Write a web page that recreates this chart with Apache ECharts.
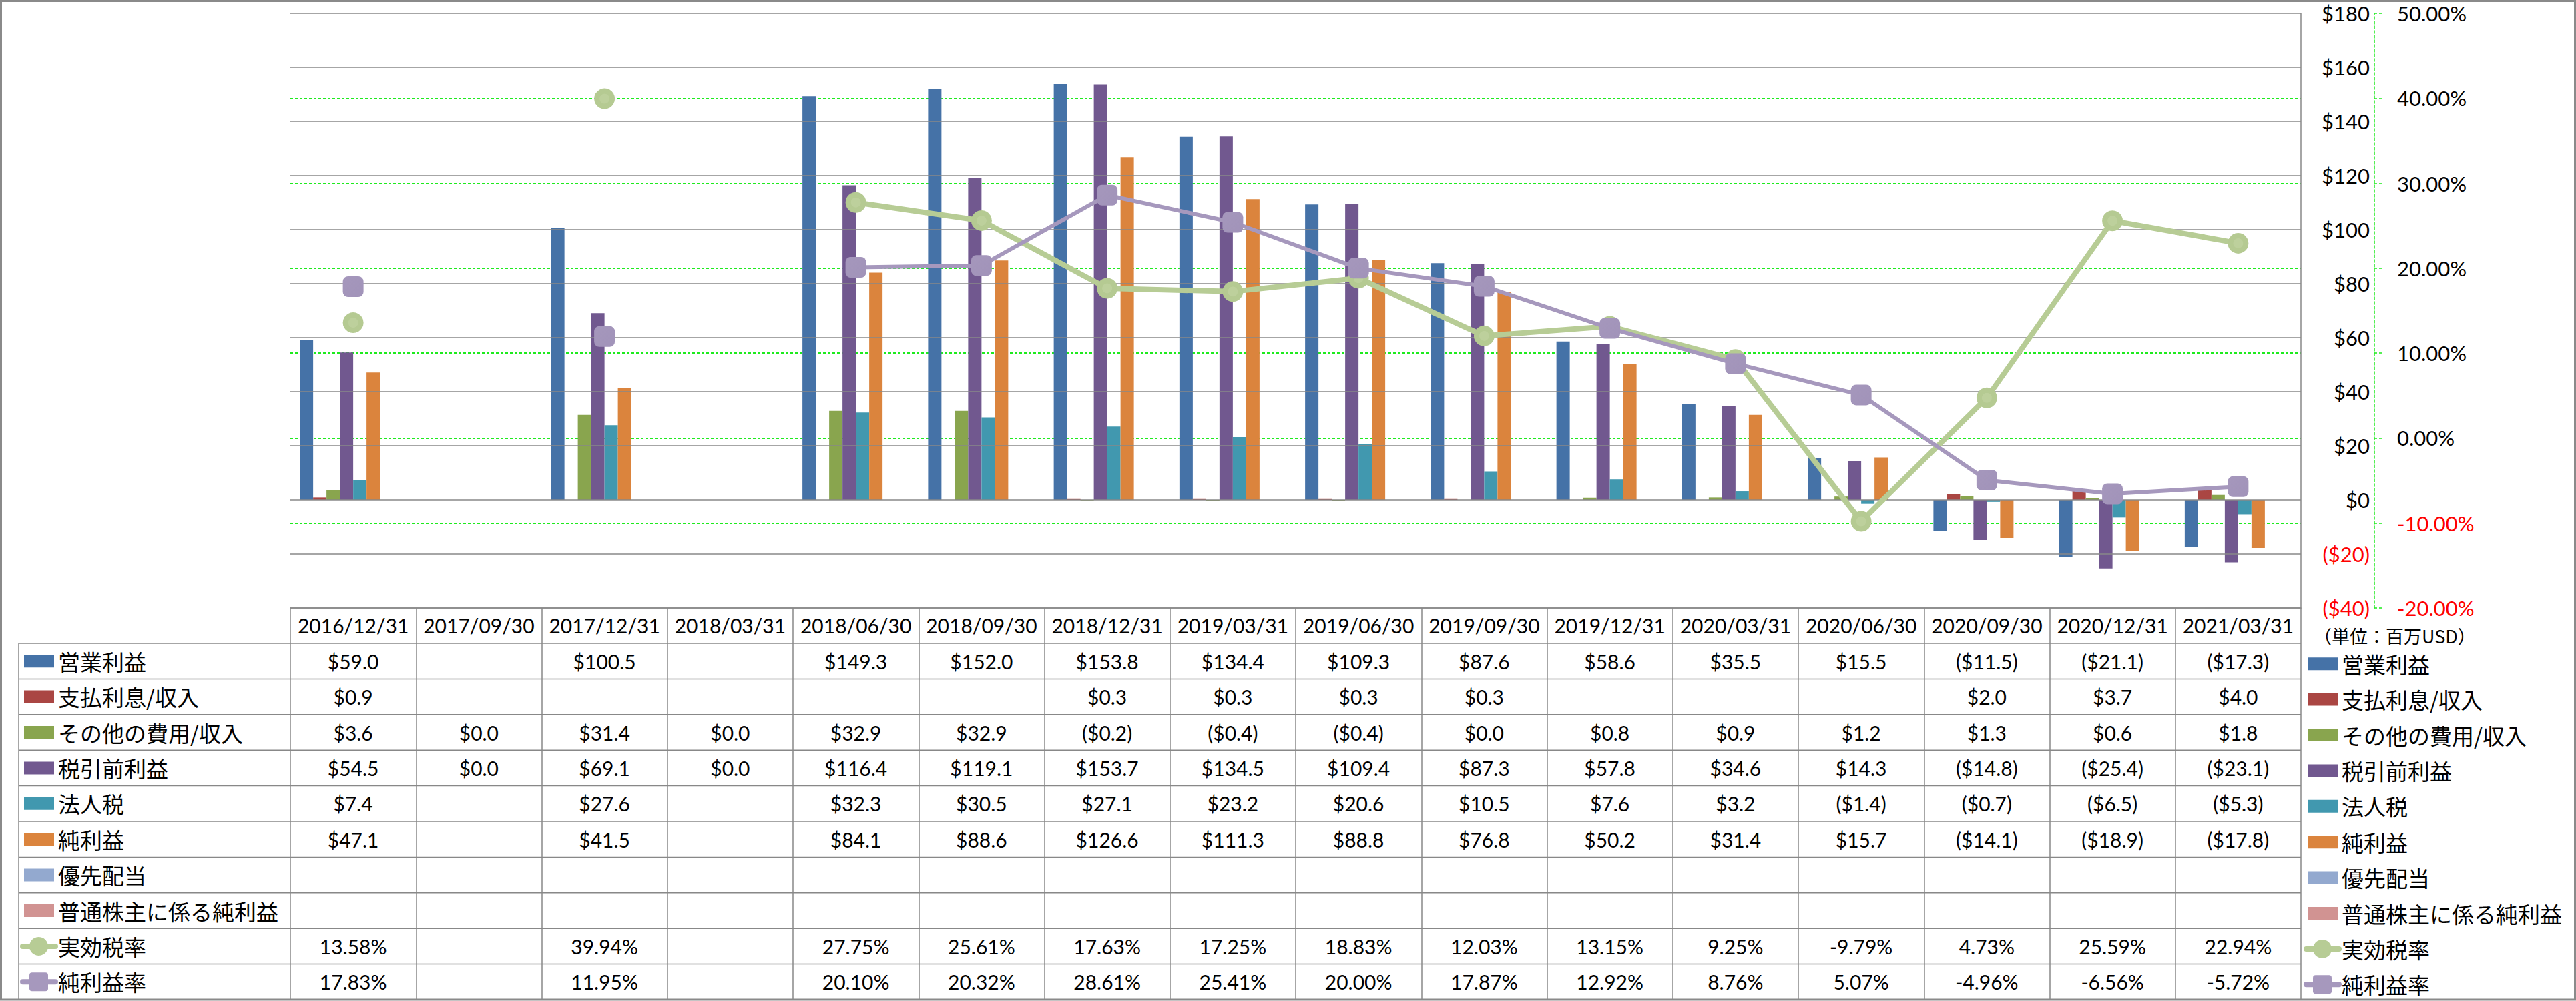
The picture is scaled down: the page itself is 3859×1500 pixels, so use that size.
<!DOCTYPE html>
<html>
<head>
<meta charset="utf-8">
<script src="https://cdn.jsdelivr.net/npm/echarts@6/dist/echarts.min.js"></script>
<style>
html,body{margin:0;padding:0;background:#fff;}
#main{width:3859px;height:1500px;}
</style>
</head>
<body>
<div id="main"></div>
<script>
// ---------- data ----------
const categories = ['2016/12/31','2017/09/30','2017/12/31','2018/03/31','2018/06/30','2018/09/30','2018/12/31','2019/03/31','2019/06/30','2019/09/30','2019/12/31','2020/03/31','2020/06/30','2020/09/30','2020/12/31','2021/03/31'];
const operatingIncome = [59.0,null,100.5,null,149.3,152.0,153.8,134.4,109.3,87.6,58.6,35.5,15.5,-11.5,-21.1,-17.3];
const interestExpense = [0.9,null,null,null,null,null,0.3,0.3,0.3,0.3,null,null,null,2.0,3.7,4.0];
const otherExpense = [3.6,0.0,31.4,0.0,32.9,32.9,-0.2,-0.4,-0.4,0.0,0.8,0.9,1.2,1.3,0.6,1.8];
const pretaxIncome = [54.5,0.0,69.1,0.0,116.4,119.1,153.7,134.5,109.4,87.3,57.8,34.6,14.3,-14.8,-25.4,-23.1];
const incomeTax = [7.4,null,27.6,null,32.3,30.5,27.1,23.2,20.6,10.5,7.6,3.2,-1.4,-0.7,-6.5,-5.3];
const netIncome = [47.1,null,41.5,null,84.1,88.6,126.6,111.3,88.8,76.8,50.2,31.4,15.7,-14.1,-18.9,-17.8];
const preferredDividend = [null,null,null,null,null,null,null,null,null,null,null,null,null,null,null,null];
const netIncomeCommon = [null,null,null,null,null,null,null,null,null,null,null,null,null,null,null,null];
const effectiveTaxRate = [13.58,null,39.94,null,27.75,25.61,17.63,17.25,18.83,12.03,13.15,9.25,-9.79,4.73,25.59,22.94];
const netMargin = [17.83,null,11.95,null,20.10,20.32,28.61,25.41,20.00,17.87,12.92,8.76,5.07,-4.96,-6.56,-5.72];
const usdTicks = {min:-40, max:180, interval:20};
const pctTicks = {min:-20, max:50, interval:10};
const unitLabel = '（単位：百万USD）';

const barNames = ['営業利益','支払利息/収入','その他の費用/収入','税引前利益','法人税','純利益','優先配当','普通株主に係る純利益'];
const barData = [operatingIncome, interestExpense, otherExpense, pretaxIncome, incomeTax, netIncome, preferredDividend, netIncomeCommon];
const barColors = ['#4572A7','#AA4643','#89A54E','#71588F','#4198AF','#DB843D','#93A9CF','#D19392'];
const lineNames = ['実効税率','純利益率'];
const lineData = [effectiveTaxRate, netMargin];
const lineColors = ['#B7CC95','#A698BD'];

const NUM_FONT = 'Lato, "Noto Sans CJK JP", sans-serif';
const JP_FONT = '"Noto Sans CJK JP", sans-serif';
const GRID_GRAY = '#888888';
const GREEN_DASH = '#1EEB1E';

function fmtUsd(v){ if(v===null||v===undefined) return ''; const s=Math.abs(v).toFixed(1); return v<0?'($'+s+')':'$'+s; }
function fmtPct(v){ if(v===null||v===undefined) return ''; return v.toFixed(2)+'%'; }

const chart = echarts.init(document.getElementById('main'), null, {renderer:'svg'});

const series = [];
barNames.forEach((n,i)=>{
  series.push({name:n, type:'bar', data:barData[i], barWidth:20, barGap:'0%', yAxisIndex:0,
    itemStyle:{color:barColors[i]}, silent:true, animation:false});
});
const radial = (c1,c2)=>({type:'radial',x:0.5,y:0.5,r:0.5,colorStops:[{offset:0,color:c1},{offset:0.45,color:c1},{offset:0.5,color:c2},{offset:1,color:c2}]});
series.push({name:lineNames[0], type:'line', yAxisIndex:1, data:lineData[0], symbol:'circle', symbolSize:31,
  lineStyle:{color:lineColors[0], width:8}, itemStyle:{color:radial('#BDD09C','#B5CA92')}, z:5, silent:true, animation:false});
series.push({name:lineNames[1], type:'line', yAxisIndex:1, data:lineData[1], symbol:'roundRect', symbolSize:31,
  lineStyle:{color:lineColors[1], width:6}, itemStyle:{color:{type:'linear',x:0,y:0,x2:1,y2:1,colorStops:[{offset:0,color:'#A597BC'},{offset:1,color:'#A193B9'}]}}, z:6, silent:true, animation:false});

const option = {
  backgroundColor:'#ffffff',
  animation:false,
  grid:{left:435, right:412, top:20, bottom:589, containLabel:false},
  xAxis:{type:'category', data:categories, boundaryGap:true,
    axisLine:{show:true, onZero:false, lineStyle:{color:GRID_GRAY, width:1.5}},
    axisTick:{show:true, inside:false, length:587, interval:0, alignWithLabel:false, lineStyle:{color:GRID_GRAY, width:1.5}},
    axisLabel:{show:true, interval:0, margin:26, verticalAlign:'middle', fontSize:30, fontFamily:NUM_FONT, color:'#000'},
    splitLine:{show:false}},
  yAxis:[
    {type:'value', position:'right', min:usdTicks.min, max:usdTicks.max, interval:usdTicks.interval,
      axisLine:{show:true, lineStyle:{color:GRID_GRAY, width:1.5}}, axisTick:{show:false},
      axisLabel:{margin:103, align:'right', fontSize:31, fontFamily:NUM_FONT,
        formatter:v=> v<0 ? '($'+Math.abs(v)+')' : '$'+v,
        color:v=> Number(v)<0 ? '#FF0000' : '#000000'},
      splitLine:{show:true, lineStyle:{color:GRID_GRAY, width:1.5}}, z:3},
    {type:'value', position:'right', offset:110, min:pctTicks.min, max:pctTicks.max, interval:pctTicks.interval,
      axisLine:{show:true, lineStyle:{color:GREEN_DASH, width:1.5, type:[4,3]}},
      axisTick:{show:true, inside:false, length:11, lineStyle:{color:GREEN_DASH, width:1.5, type:[4,3]}},
      axisLabel:{margin:34, align:'left', fontSize:31, fontFamily:NUM_FONT,
        formatter:v=> Number(v).toFixed(2)+'%',
        color:v=> Number(v)<0 ? '#FF0000' : '#000000'},
      splitLine:{show:true, lineStyle:{color:['rgba(0,0,0,0)',GREEN_DASH,GREEN_DASH,GREEN_DASH,GREEN_DASH,GREEN_DASH,GREEN_DASH,'rgba(0,0,0,0)'], width:2, type:[4,3]}}, z:2}
  ],
  series:series
};
chart.setOption(option);

// ---------- table & legends (positions from the chart's own scales) ----------
function buildGraphic(){
  const xs = categories.map((c,i)=>chart.convertToPixel({xAxisIndex:0}, i));
  const step = xs[1]-xs[0];
  const xRight = xs[xs.length-1]+step/2;
  const yBottom = chart.convertToPixel({yAxisIndex:0}, usdTicks.min);
  const headerH = 53;
  const tableTop = yBottom + headerH;
  const tableBottom = 1498;
  const rows = barNames.concat(lineNames);
  const rowH = (tableBottom - tableTop)/rows.length;
  const legendLeft = 28;
  const g = [];
  g.push({type:'rect', silent:true, shape:{x:1.5,y:1.5,width:3856,height:1496.5}, style:{fill:'none', stroke:'#8a8a8a', lineWidth:3}, z:100});
  for(let k=0;k<=rows.length;k++){
    const y = tableTop + k*rowH;
    g.push({type:'line', silent:true, shape:{x1:legendLeft,y1:y,x2:xRight,y2:y}, style:{stroke:GRID_GRAY, lineWidth:1.5}});
  }
  g.push({type:'line', silent:true, shape:{x1:legendLeft,y1:tableTop,x2:legendLeft,y2:tableBottom}, style:{stroke:GRID_GRAY, lineWidth:1.5}});
  const allData = barData.concat(lineData);
  rows.forEach((name,r)=>{
    const cy = tableTop + (r+0.5)*rowH;
    const isLine = r>=barNames.length;
    allData[r].forEach((v,i)=>{
      const t = isLine ? fmtPct(v) : fmtUsd(v);
      if(t) g.push({type:'text', silent:true, x:xs[i], y:cy, style:{text:t, fontSize:30, fontFamily:NUM_FONT, fill:'#000', align:'center', verticalAlign:'middle'}});
    });
    [[36, cy],[3457, cy+4]].forEach(([kx,ky])=>{
      if(!isLine){
        g.push({type:'rect', silent:true, shape:{x:kx,y:ky-9.5,width:45,height:19}, style:{fill:barColors[r]}});
      } else {
        const li = r-barNames.length;
        g.push({type:'line', silent:true, shape:{x1:kx-2,y1:ky,x2:kx+47,y2:ky}, style:{stroke:lineColors[li], lineWidth:8, lineCap:'round'}});
        if(li===0) g.push({type:'circle', silent:true, shape:{cx:kx+22,cy:ky,r:14}, style:{fill:lineColors[li]}});
        else g.push({type:'rect', silent:true, shape:{x:kx+22-14,y:ky-14,width:28,height:28,r:4}, style:{fill:lineColors[li]}});
      }
      g.push({type:'text', silent:true, x:kx+51, y:ky, style:{text:name, fontSize:33, fontFamily:JP_FONT, fill:'#000', align:'left', verticalAlign:'middle'}});
    });
  });
  g.push({type:'text', silent:true, x:3466, y:952, style:{text:unitLabel, fontSize:27, fontFamily:JP_FONT, fill:'#000', align:'left', verticalAlign:'middle'}});
  chart.setOption({graphic:g});
}
buildGraphic();
</script>
</body>
</html>
